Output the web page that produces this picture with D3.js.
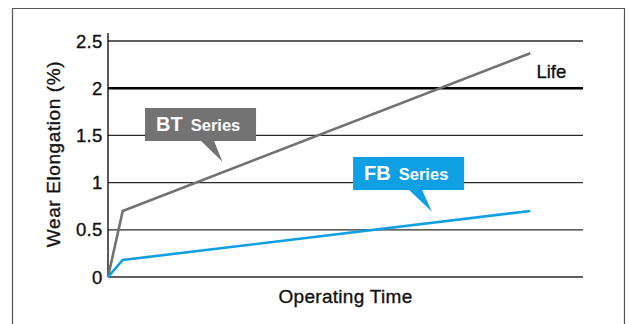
<!DOCTYPE html>
<html>
<head>
<meta charset="utf-8">
<script src="https://cdn.jsdelivr.net/npm/d3@7"></script>
<style>
  body { margin: 0; background: #fff; }
  svg { display: block; font-family: "Liberation Sans", Arial, Helvetica, sans-serif; }
  .lbl { fill: #111; stroke: #111; stroke-width: 0.35; }
</style>
</head>
<body>
<svg id="chart" width="630" height="324"></svg>
<script>
// operating time is unitless in the picture; 0..100 spans the plot width
const yTicks = [0, 0.5, 1, 1.5, 2, 2.5];
const lifeValue = 2;
const btSeries = [
  { t: 0, v: 0 },
  { t: 3.1, v: 0.7 },
  { t: 88.9, v: 2.37 },
];
const fbSeries = [
  { t: 0, v: 0 },
  { t: 3.1, v: 0.18 },
  { t: 88.9, v: 0.7 },
];
// callout boxes: top-left corner and pointer tip, in data units
const callouts = [
  { name: "BT", sub: "Series", color: "#737373", boxT: 7.8, boxV: 1.79, tipT: 24.1, tipV: 1.22 },
  { name: "FB", sub: "Series", color: "#0ea0e3", boxT: 51.6, boxV: 1.27, tipT: 68.2, tipV: 0.69 },
];

const svg = d3.select("#chart");
const margin = { top: 41, left: 108, right: 47, bottom: 47 };
const width = 630 - margin.left - margin.right;
const height = 324 - margin.top - margin.bottom;

// outer frame (open at the bottom)
svg.append("path")
  .attr("d", "M12.5,324 V8.5 H624.5 V324")
  .attr("fill", "none")
  .attr("stroke", "#555")
  .attr("stroke-width", 1.2);

const g = svg.append("g")
  .attr("transform", "translate(" + margin.left + "," + margin.top + ")");

const x = d3.scaleLinear().domain([0, 100]).range([0, width]);
const y = d3.scaleLinear().domain([0, 2.5]).range([height, 0]);

// horizontal grid lines
g.append("g")
  .selectAll("line")
  .data(yTicks)
  .enter()
  .append("line")
  .attr("x1", 0)
  .attr("x2", width)
  .attr("y1", (d) => y(d))
  .attr("y2", (d) => y(d))
  .attr("stroke", (d) => (d === lifeValue ? "#000" : "#2a2a2a"))
  .attr("stroke-width", (d) => (d === lifeValue ? 2.6 : d === 0 ? 1.6 : 1.3));

// y axis line
g.append("line")
  .attr("x1", 0)
  .attr("x2", 0)
  .attr("y1", -8)
  .attr("y2", height)
  .attr("stroke", "#000")
  .attr("stroke-width", 1.3);

// tick labels
g.append("g")
  .selectAll("text")
  .data(yTicks)
  .enter()
  .append("text")
  .attr("class", "lbl")
  .attr("x", -5.5)
  .attr("y", (d) => y(d))
  .attr("dy", "0.36em")
  .attr("text-anchor", "end")
  .attr("font-size", 18.5)
  .attr("letter-spacing", 0.3)
  .text((d) => d3.format("")(d));

// axis titles
g.append("text")
  .attr("class", "lbl")
  .attr("transform", "translate(-48,113) rotate(-90)")
  .attr("text-anchor", "middle")
  .attr("font-size", 19)
  .attr("letter-spacing", 0.6)
  .text("Wear Elongation (%)");

g.append("text")
  .attr("class", "lbl")
  .attr("x", 237.5)
  .attr("y", height + 25.7)
  .attr("text-anchor", "middle")
  .attr("font-size", 19)
  .attr("letter-spacing", 0.3)
  .text("Operating Time");

g.append("text")
  .attr("class", "lbl")
  .attr("x", x(90.2))
  .attr("y", y(lifeValue) - 10)
  .attr("font-size", 18.5)
  .text("Life");

// series lines
const line = d3.line()
  .x((d) => x(d.t))
  .y((d) => y(d.v));

g.append("path")
  .datum(btSeries)
  .attr("d", line)
  .attr("fill", "none")
  .attr("stroke", "#727272")
  .attr("stroke-width", 2.6);

g.append("path")
  .datum(fbSeries)
  .attr("d", line)
  .attr("fill", "none")
  .attr("stroke", "#0f9fe2")
  .attr("stroke-width", 2.6);

// callout boxes with pointers
callouts.forEach((c) => {
  const bx = x(c.boxT), by = y(c.boxV);
  const bw = 111, bh = 33;
  const tipX = x(c.tipT), tipY = y(c.tipV);
  const box = g.append("g");
  box.append("path")
    .attr("d",
      "M" + bx + "," + by +
      " H" + (bx + bw) +
      " V" + (by + bh) +
      " H" + (bx + 69) +
      " L" + tipX + "," + tipY +
      " L" + (bx + 56) + "," + (by + bh) +
      " H" + bx + " Z")
    .attr("fill", c.color);
  const t = box.append("text")
    .attr("x", bx + 11)
    .attr("y", by + 23)
    .attr("fill", "#fff")
    .attr("font-weight", "bold");
  t.append("tspan").attr("font-size", 20).text(c.name);
  t.append("tspan").attr("font-size", 16.5).attr("dx", 8).text(c.sub);
});
</script>
</body>
</html>
